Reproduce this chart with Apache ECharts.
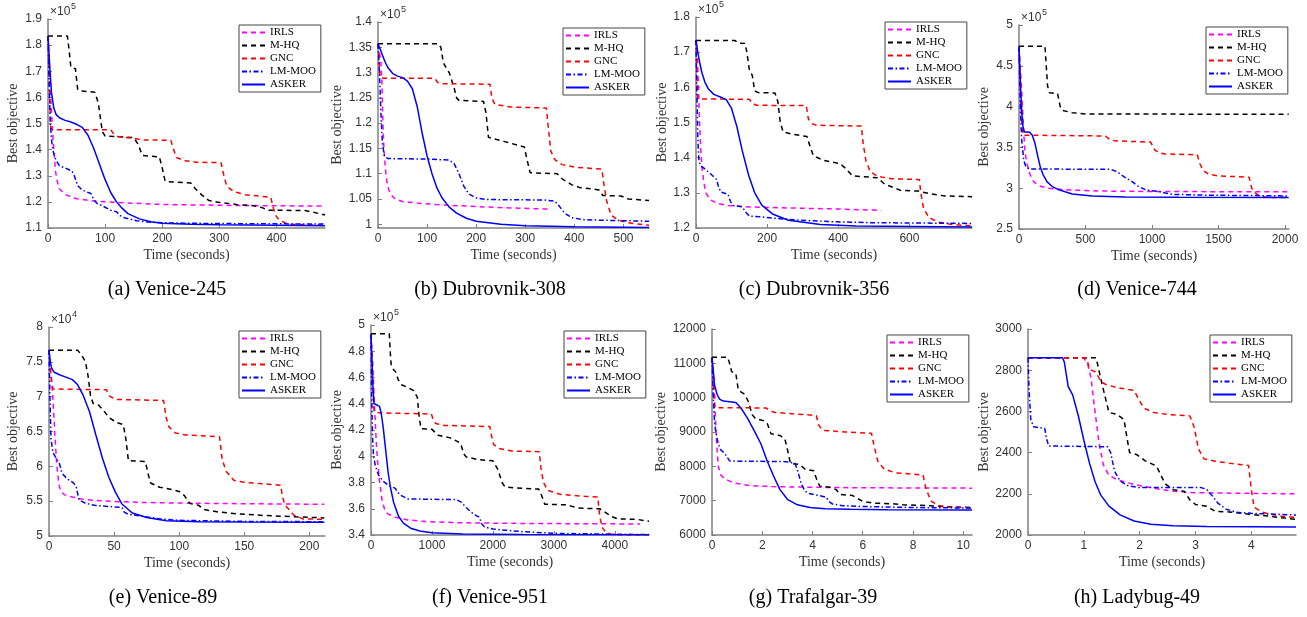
<!DOCTYPE html>
<html>
<head>
<meta charset="utf-8">
<script src="https://cdn.jsdelivr.net/npm/echarts@6/dist/echarts.min.js"></script>
<style>
html, body { margin: 0; padding: 0; background: #fff; }
#main { width: 1307px; height: 617px; }
</style>
</head>
<body>
<div id="main"></div>
<script>
var seriesNames = ['IRLS', 'M-HQ', 'GNC', 'LM-MOO', 'ASKER'];
var captions = ['(a) Venice-245', '(b) Dubrovnik-308', '(c) Dubrovnik-356', '(d) Venice-744',
                '(e) Venice-89', '(f) Venice-951', '(g) Trafalgar-39', '(h) Ladybug-49'];
var exponents = ['5', '5', '5', '5', '4', '5', '', ''];

// (a) Venice-245, objective in units of 1e5
var aXTicks = [0, 100, 200, 300, 400];
var aYTicks = [1.1, 1.2, 1.3, 1.4, 1.5, 1.6, 1.7, 1.8, 1.9];
var aIRLS = [[0,1.835],[3,1.7],[6,1.55],[8,1.47],[11,1.38],[13,1.32],[16,1.28],[20,1.25],[30,1.228],[50,1.212],[80,1.203],[120,1.198],[200,1.19],[300,1.187],[400,1.185],[485,1.184]];
var aMHQ = [[0,1.835],[34,1.835],[37,1.78],[40,1.715],[48,1.71],[52,1.63],[56,1.625],[82,1.62],[88,1.58],[95,1.47],[100,1.452],[150,1.446],[158,1.42],[165,1.378],[195,1.372],[200,1.33],[205,1.28],[210,1.277],[250,1.272],[258,1.25],[270,1.225],[282,1.205],[300,1.198],[330,1.19],[360,1.185],[375,1.178],[385,1.168],[450,1.167],[465,1.16],[485,1.15]];
var aGNC = [[0,1.835],[3,1.6],[5,1.48],[10,1.476],[110,1.476],[115,1.46],[122,1.45],[150,1.443],[165,1.437],[215,1.436],[220,1.4],[225,1.37],[240,1.357],[260,1.352],[303,1.35],[308,1.3],[313,1.26],[325,1.24],[345,1.227],[390,1.218],[393,1.19],[398,1.15],[405,1.13],[420,1.115],[450,1.112],[485,1.111]];
var aLMMOO = [[0,1.835],[2,1.65],[4,1.5],[7,1.42],[10,1.385],[14,1.36],[20,1.338],[30,1.33],[42,1.318],[46,1.3],[52,1.262],[60,1.245],[75,1.232],[80,1.21],[85,1.195],[95,1.185],[110,1.168],[120,1.162],[126,1.148],[135,1.138],[155,1.128],[180,1.122],[220,1.119],[300,1.117],[400,1.116],[485,1.115]];
var aASKER = [[0,1.835],[3,1.72],[6,1.62],[10,1.56],[14,1.535],[20,1.522],[30,1.512],[40,1.506],[50,1.497],[60,1.485],[70,1.455],[80,1.405],[90,1.345],[100,1.285],[110,1.235],[120,1.2],[130,1.175],[140,1.155],[160,1.135],[180,1.124],[200,1.118],[250,1.114],[300,1.112],[400,1.111],[485,1.109]];

// (b) Dubrovnik-308
var bXTicks = [0, 100, 200, 300, 400, 500];
var bYTicks = [1, 1.05, 1.1, 1.15, 1.2, 1.25, 1.3, 1.35, 1.4];
var bIRLS = [[0,1.357],[3,1.34],[6,1.32],[8,1.28],[10,1.2],[12,1.15],[15,1.11],[18,1.085],[22,1.068],[28,1.057],[35,1.05],[50,1.045],[80,1.042],[120,1.039],[180,1.036],[250,1.033],[350,1.03]];
var bMHQ = [[0,1.357],[123,1.357],[128,1.35],[133,1.32],[140,1.307],[145,1.3],[150,1.285],[155,1.27],[160,1.25],[165,1.245],[215,1.243],[220,1.22],[225,1.172],[240,1.168],[260,1.163],[298,1.153],[303,1.13],[310,1.102],[365,1.1],[375,1.09],[395,1.078],[410,1.073],[450,1.068],[458,1.057],[495,1.056],[510,1.05],[552,1.047]];
var bGNC = [[0,1.357],[2,1.33],[4,1.29],[10,1.289],[115,1.289],[122,1.28],[130,1.278],[228,1.277],[232,1.25],[238,1.237],[270,1.232],[343,1.23],[347,1.19],[352,1.145],[360,1.128],[375,1.118],[400,1.113],[456,1.109],[460,1.08],[466,1.045],[475,1.018],[490,1.008],[510,1.003],[552,0.998]];
var bLMMOO = [[0,1.357],[3,1.3],[6,1.22],[9,1.16],[13,1.135],[20,1.13],[100,1.129],[145,1.127],[155,1.12],[165,1.1],[175,1.075],[185,1.06],[200,1.052],[220,1.049],[340,1.048],[360,1.046],[370,1.035],[380,1.022],[395,1.013],[420,1.009],[460,1.008],[552,1.006]];
var bASKER = [[0,1.357],[5,1.345],[10,1.332],[15,1.32],[20,1.31],[30,1.298],[40,1.293],[50,1.29],[60,1.283],[70,1.268],[80,1.232],[90,1.18],[100,1.135],[110,1.1],[120,1.072],[130,1.053],[145,1.034],[160,1.022],[180,1.012],[200,1.006],[250,1.0],[300,0.997],[400,0.995],[552,0.9935]];

// (c) Dubrovnik-356
var cXTicks = [0, 200, 400, 600];
var cYTicks = [1.2, 1.3, 1.4, 1.5, 1.6, 1.7, 1.8];
var cIRLS = [[0,1.734],[4,1.68],[7,1.6],[10,1.5],[13,1.43],[17,1.37],[22,1.33],[28,1.3],[40,1.28],[60,1.27],[90,1.264],[150,1.26],[260,1.257],[400,1.254],[521,1.25]];
var cMHQ = [[0,1.733],[110,1.733],[118,1.726],[138,1.725],[143,1.7],[150,1.65],[158,1.635],[165,1.59],[175,1.585],[222,1.584],[230,1.56],[237,1.5],[245,1.473],[270,1.467],[312,1.46],[318,1.44],[330,1.405],[360,1.392],[405,1.383],[420,1.37],[440,1.348],[510,1.343],[530,1.325],[555,1.315],[575,1.307],[625,1.305],[660,1.297],[700,1.291],[776,1.289]];
var cGNC = [[0,1.734],[3,1.62],[5,1.567],[150,1.566],[158,1.555],[170,1.549],[310,1.548],[316,1.51],[325,1.497],[340,1.492],[465,1.49],[470,1.44],[478,1.39],[490,1.36],[510,1.347],[550,1.34],[628,1.338],[632,1.3],[640,1.255],[655,1.23],[680,1.217],[720,1.21],[776,1.206]];
var cLMMOO = [[0,1.734],[2,1.6],[5,1.46],[8,1.395],[12,1.378],[25,1.368],[40,1.355],[58,1.338],[63,1.318],[70,1.302],[90,1.296],[97,1.275],[105,1.264],[130,1.26],[140,1.245],[150,1.234],[180,1.232],[220,1.228],[280,1.223],[380,1.218],[500,1.215],[776,1.213]];
var cASKER = [[0,1.734],[5,1.7],[10,1.672],[17,1.64],[25,1.615],[35,1.595],[50,1.58],[70,1.572],[85,1.565],[100,1.54],[115,1.488],[130,1.42],[148,1.35],[165,1.3],[185,1.265],[215,1.24],[260,1.222],[350,1.21],[450,1.206],[776,1.203]];

// (d) Venice-744
var dXTicks = [0, 500, 1000, 1500, 2000];
var dYTicks = [2.5, 3, 3.5, 4, 4.5, 5];
var dIRLS = [[0,4.734],[20,4.2],[35,3.7],[45,3.45],[60,3.3],[80,3.18],[110,3.08],[150,3.03],[220,3.0],[350,2.98],[600,2.965],[1000,2.96],[2028,2.955]];
var dMHQ = [[0,4.74],[195,4.74],[205,4.5],[215,4.25],[230,4.17],[290,4.16],[310,4.0],[325,3.955],[400,3.925],[500,3.91],[2028,3.905]];
var dGNC = [[0,4.734],[10,4.3],[20,3.8],[30,3.65],[650,3.64],[680,3.6],[720,3.58],[990,3.565],[1020,3.47],[1050,3.435],[1100,3.42],[1340,3.41],[1360,3.3],[1385,3.215],[1430,3.17],[1500,3.15],[1730,3.135],[1750,3.0],[1770,2.95],[1810,2.9],[1900,2.885],[2028,2.885]];
var dLMMOO = [[0,4.734],[10,4.0],[20,3.6],[35,3.35],[50,3.27],[75,3.235],[690,3.232],[740,3.2],[790,3.14],[850,3.08],[900,3.02],[960,2.975],[1050,2.96],[1100,2.94],[1150,2.925],[1400,2.915],[2028,2.905]];
var dASKER = [[0,4.734],[10,4.3],[20,3.95],[30,3.75],[40,3.69],[60,3.69],[80,3.685],[100,3.65],[120,3.55],[140,3.4],[160,3.26],[180,3.17],[210,3.08],[250,3.02],[300,2.98],[400,2.93],[550,2.905],[800,2.893],[1200,2.888],[2028,2.885]];

// (e) Venice-89, objective in units of 1e4
var eXTicks = [0, 50, 100, 150, 200];
var eYTicks = [5, 5.5, 6, 6.5, 7, 7.5, 8];
var eIRLS = [[0,7.67],[1.5,7.3],[2.5,7.1],[3.5,6.8],[5,6.3],[6,6.02],[7.5,5.75],[9,5.64],[12,5.59],[18,5.56],[25,5.53],[35,5.51],[50,5.495],[75,5.48],[110,5.47],[160,5.462],[211.5,5.455]];
var eMHQ = [[0,7.665],[22,7.665],[25,7.6],[28,7.5],[30,7.3],[32,7.0],[34,6.9],[38,6.88],[42,6.8],[46,6.7],[52,6.63],[57,6.6],[59,6.4],[61,6.08],[74,6.07],[76,5.9],[78,5.76],[85,5.7],[90,5.685],[100,5.64],[104,5.58],[108,5.47],[115,5.44],[119,5.38],[130,5.345],[145,5.318],[165,5.295],[190,5.275],[211.5,5.26]];
var eGNC = [[0,7.67],[1.5,7.3],[3,7.11],[44,7.1],[47,7.0],[52,6.96],[88,6.945],[90,6.7],[92,6.57],[97,6.48],[105,6.45],[131,6.425],[133,6.1],[136,5.93],[142,5.8],[150,5.77],[178,5.73],[179,5.6],[181,5.45],[188,5.3],[195,5.245],[211.5,5.24]];
var eLMMOO = [[0,7.67],[0.7,7.0],[1.5,6.4],[3,6.2],[6,6.1],[8,6.04],[10,5.9],[14,5.82],[19,5.76],[21,5.7],[23,5.52],[28,5.47],[35,5.44],[45,5.425],[56,5.41],[58,5.34],[61,5.31],[70,5.29],[85,5.245],[100,5.225],[150,5.21],[211.5,5.205]];
var eASKER = [[0,7.67],[1,7.5],[2,7.41],[4,7.35],[8,7.315],[13,7.28],[18,7.245],[22,7.17],[26,7.03],[31,6.79],[36,6.45],[41,6.12],[46,5.84],[51,5.63],[56,5.46],[64,5.33],[75,5.265],[90,5.22],[115,5.205],[150,5.2],[211.5,5.197]];

// (f) Venice-951, objective in units of 1e5
var fXTicks = [0, 1000, 2000, 3000, 4000];
var fYTicks = [3.4, 3.6, 3.8, 4, 4.2, 4.4, 4.6, 4.8, 5];
var fIRLS = [[0,4.93],[30,4.7],[60,4.35],[90,4.08],[110,3.95],[140,3.81],[180,3.67],[220,3.6],[280,3.56],[400,3.535],[600,3.515],[900,3.502],[1500,3.493],[2500,3.488],[4414,3.484]];
var fMHQ = [[0,4.934],[300,4.934],[315,4.8],[330,4.7],[350,4.67],[400,4.645],[450,4.58],[500,4.545],[600,4.525],[700,4.5],[760,4.45],[790,4.3],[820,4.21],[1000,4.205],[1100,4.16],[1300,4.14],[1470,4.1],[1520,4.02],[1560,3.995],[1750,3.975],[2000,3.965],[2080,3.9],[2150,3.8],[2200,3.765],[2500,3.755],[2750,3.75],[2800,3.7],[2850,3.635],[3200,3.63],[3400,3.605],[3750,3.6],[3850,3.57],[3950,3.54],[4050,3.522],[4350,3.52],[4560,3.505]];
var fGNC = [[0,4.93],[20,4.6],[50,4.34],[150,4.33],[990,4.322],[1020,4.28],[1060,4.25],[1200,4.235],[1950,4.226],[1980,4.15],[2010,4.09],[2100,4.06],[2300,4.04],[2760,4.035],[2790,3.9],[2830,3.8],[2900,3.74],[3100,3.71],[3500,3.695],[3720,3.69],[3750,3.55],[3790,3.46],[3850,3.42],[3950,3.405],[4100,3.4],[4560,3.4]];
var fLMMOO = [[0,4.93],[10,4.5],[25,4.15],[40,4.01],[70,3.93],[120,3.86],[200,3.81],[300,3.775],[400,3.755],[430,3.73],[480,3.705],[600,3.675],[1000,3.672],[1400,3.67],[1480,3.65],[1560,3.61],[1640,3.575],[1720,3.55],[1780,3.535],[1810,3.49],[1860,3.462],[2000,3.445],[2200,3.437],[2500,3.425],[3000,3.413],[4000,3.406],[4560,3.403]];
var fASKER = [[0,4.93],[15,4.75],[30,4.55],[50,4.4],[100,4.39],[140,4.38],[170,4.32],[200,4.22],[240,4.05],[280,3.88],[320,3.76],[370,3.65],[450,3.545],[530,3.49],[650,3.452],[800,3.43],[1000,3.418],[1500,3.408],[2500,3.404],[4560,3.402]];

// (g) Trafalgar-39
var gXTicks = [0, 2, 4, 6, 8, 10];
var gYTicks = [6000, 7000, 8000, 9000, 10000, 11000, 12000];
var gIRLS = [[0,11165],[0.08,10500],[0.13,9500],[0.18,8700],[0.25,8000],[0.35,7750],[0.5,7640],[0.7,7570],[1.0,7500],[1.5,7440],[2.4,7410],[4,7390],[6,7375],[10.35,7365]];
var gMHQ = [[0,11175],[0.62,11175],[0.7,11000],[0.78,10760],[0.95,10700],[1.0,10450],[1.05,10220],[1.3,10100],[1.45,9880],[1.6,9500],[1.72,9400],[2.05,9330],[2.2,9250],[2.35,8950],[2.7,8900],[2.9,8800],[3.0,8500],[3.12,8090],[3.5,8050],[3.7,7920],[4.05,7870],[4.2,7550],[4.3,7420],[4.7,7390],[4.95,7320],[5.1,7180],[5.6,7150],[5.8,7060],[6.0,6980],[6.4,6930],[7.2,6910],[7.6,6880],[8.5,6860],[9.2,6830],[10.35,6800]];
var gGNC = [[0,11165],[0.05,10400],[0.1,9710],[2.15,9700],[2.3,9620],[2.5,9570],[3.2,9530],[4.15,9480],[4.25,9200],[4.4,9050],[5.3,9000],[6.35,8960],[6.45,8600],[6.6,8150],[6.85,7920],[7.3,7810],[8.4,7750],[8.5,7400],[8.7,7000],[9.0,6860],[9.5,6810],[10.35,6795]];
var gLMMOO = [[0,11165],[0.05,10000],[0.1,9300],[0.15,9000],[0.25,8650],[0.35,8480],[0.5,8380],[0.7,8160],[1.0,8150],[2.8,8140],[3.1,8120],[3.3,8090],[3.42,7850],[3.55,7500],[3.7,7280],[3.85,7210],[4.2,7160],[4.55,7100],[4.65,6980],[4.8,6900],[5.2,6855],[6,6830],[8,6800],[10.35,6785]];
var gASKER = [[0,11165],[0.05,10800],[0.1,10370],[0.2,10100],[0.3,9960],[0.45,9900],[0.7,9880],[0.95,9860],[1.15,9700],[1.4,9420],[1.7,9010],[1.95,8650],[2.2,8150],[2.45,7720],[2.7,7330],[3.0,7040],[3.4,6880],[3.9,6800],[4.5,6765],[5.5,6750],[7,6738],[10.35,6728]];

// (h) Ladybug-49
var hXTicks = [0, 1, 2, 3, 4];
var hYTicks = [2000, 2200, 2400, 2600, 2800, 3000];
var hIRLS = [[0,2860],[1.0,2860],[1.07,2830],[1.13,2760],[1.2,2600],[1.27,2450],[1.35,2340],[1.45,2290],[1.6,2268],[1.9,2245],[2.3,2225],[2.6,2212],[3.0,2205],[4.8,2200]];
var hMHQ = [[0,2860],[1.22,2860],[1.27,2800],[1.32,2740],[1.4,2650],[1.45,2595],[1.6,2585],[1.72,2560],[1.78,2460],[1.82,2400],[1.95,2390],[2.1,2360],[2.3,2335],[2.4,2280],[2.45,2250],[2.6,2220],[2.8,2212],[2.9,2170],[3.0,2148],[3.2,2140],[3.35,2115],[3.6,2112],[4.0,2100],[4.3,2092],[4.6,2082],[4.8,2076]];
var hGNC = [[0,2860],[1.05,2860],[1.1,2805],[1.22,2790],[1.3,2745],[1.4,2730],[1.6,2715],[1.9,2702],[2.0,2650],[2.08,2615],[2.25,2595],[2.5,2585],[2.9,2578],[2.98,2520],[3.05,2420],[3.15,2370],[3.35,2358],[3.7,2345],[3.95,2338],[4.0,2220],[4.05,2135],[4.2,2110],[4.5,2092],[4.8,2085]];
var hLMMOO = [[0,2860],[0.02,2700],[0.05,2560],[0.1,2525],[0.3,2518],[0.33,2470],[0.37,2432],[1.0,2430],[1.43,2428],[1.48,2400],[1.55,2310],[1.65,2262],[1.8,2238],[2.0,2230],[3.1,2230],[3.2,2222],[3.3,2190],[3.4,2155],[3.55,2125],[3.75,2110],[4.0,2105],[4.8,2097]];
var hASKER = [[0,2860],[0.62,2860],[0.65,2840],[0.72,2720],[0.8,2680],[0.9,2580],[1.0,2460],[1.1,2350],[1.2,2260],[1.3,2195],[1.45,2140],[1.65,2098],[1.9,2068],[2.2,2052],[2.6,2045],[3.2,2041],[4.8,2039]];

// layout: plot box [left, top, right, bottom], legend [left, top], caption [x, y]
var panels = [
  { box: [48, 19, 325, 228],    x: [0, 485],   y: [1.1, 1.9],     xt: aXTicks, yt: aYTicks, lines: [aIRLS, aMHQ, aGNC, aLMMOO, aASKER], leg: [239, 25],   cap: [167, 290],  gap: 28 },
  { box: [378, 22, 649, 228],   x: [0, 552],   y: [0.9927, 1.4],  xt: bXTicks, yt: bYTicks, lines: [bIRLS, bMHQ, bGNC, bLMMOO, bASKER], leg: [563, 28],   cap: [490, 290],  gap: 34 },
  { box: [696, 17, 972, 228],   x: [0, 776],   y: [1.2, 1.8],     xt: cXTicks, yt: cYTicks, lines: [cIRLS, cMHQ, cGNC, cLMMOO, cASKER], leg: [885, 22],   cap: [814, 290],  gap: 27 },
  { box: [1019, 25, 1289, 229], x: [0, 2030],  y: [2.5, 5],       xt: dXTicks, yt: dYTicks, lines: [dIRLS, dMHQ, dGNC, dLMMOO, dASKER], leg: [1206, 27],  cap: [1137, 290], gap: 28 },
  { box: [49, 327, 325, 536],   x: [0, 212],   y: [5, 8],         xt: eXTicks, yt: eYTicks, lines: [eIRLS, eMHQ, eGNC, eLMMOO, eASKER], leg: [239, 331],  cap: [163, 598],  gap: 29 },
  { box: [371, 325, 649, 535],  x: [0, 4560],  y: [3.4, 5],       xt: fXTicks, yt: fYTicks, lines: [fIRLS, fMHQ, fGNC, fLMMOO, fASKER], leg: [564, 331],  cap: [490, 598],  gap: 27 },
  { box: [712, 329, 972, 535],  x: [0, 10.35], y: [6000, 12000],  xt: gXTicks, yt: gYTicks, lines: [gIRLS, gMHQ, gGNC, gLMMOO, gASKER], leg: [887, 335],  cap: [813, 598],  gap: 44 },
  { box: [1028, 329, 1296, 535],x: [0, 4.8],   y: [2000, 3000],   xt: hXTicks, yt: hYTicks, lines: [hIRLS, hMHQ, hGNC, hLMMOO, hASKER], leg: [1210, 335], cap: [1137, 598], gap: 37 }
];

var lineStyles = [
  { color: '#ff00ff', type: [5, 4] },
  { color: '#000000', type: [5, 4] },
  { color: '#ff0000', type: [5, 4] },
  { color: '#0000ff', type: [5, 2.5, 1.5, 2.5] },
  { color: '#0000ff', type: 'solid' }
];

var axisGray = '#808080';
function fmt(v) { return String(+v.toFixed(4)); }

var option = { animation: false, backgroundColor: '#fff', grid: [], xAxis: [], yAxis: [], series: [], legend: [], graphic: [] };

panels.forEach(function (p, i) {
  var b = p.box;
  option.grid.push({ left: b[0], top: b[1], width: b[2] - b[0], height: b[3] - b[1], outerBoundsMode: 'none' });
  option.xAxis.push({
    type: 'value', gridIndex: i, min: p.x[0], max: p.x[1],
    name: 'Time (seconds)', nameLocation: 'middle', nameGap: 20,
    nameTextStyle: { fontFamily: 'Liberation Serif', fontSize: 14, color: '#333' },
    axisLine: { show: true, onZero: false, lineStyle: { color: axisGray, width: 1.5 } },
    axisTick: { show: true, inside: true, length: 4, customValues: p.xt, lineStyle: { color: axisGray, width: 1 } },
    axisLabel: { customValues: p.xt, formatter: fmt, color: '#333', fontFamily: 'Liberation Sans', fontSize: 12, margin: 5 },
    splitLine: { show: false }
  });
  option.yAxis.push({
    type: 'value', gridIndex: i, min: p.y[0], max: p.y[1],
    name: 'Best objective', nameLocation: 'middle', nameGap: p.gap,
    nameTextStyle: { fontFamily: 'Liberation Serif', fontSize: 14, color: '#333' },
    axisLine: { show: true, onZero: false, lineStyle: { color: axisGray, width: 1.5 } },
    axisTick: { show: true, inside: true, length: 4, customValues: p.yt, lineStyle: { color: axisGray, width: 1 } },
    axisLabel: { customValues: p.yt, formatter: fmt, color: '#333', fontFamily: 'Liberation Sans', fontSize: 12, margin: 6 },
    splitLine: { show: false }
  });
  p.lines.forEach(function (d, k) {
    option.series.push({
      type: 'line', name: seriesNames[k], xAxisIndex: i, yAxisIndex: i,
      data: d, symbol: 'none', smooth: false, clip: true,
      lineStyle: { color: lineStyles[k].color, type: lineStyles[k].type, width: 1.5 },
      itemStyle: { color: lineStyles[k].color }
    });
  });
  option.legend.push({
    left: p.leg[0], top: p.leg[1], orient: 'vertical', data: seriesNames,
    itemWidth: 23, itemHeight: 11, itemGap: 2, padding: [2, 5, 2, 2],
    backgroundColor: '#fff', borderColor: '#444', borderWidth: 1, borderRadius: 0,
    selectedMode: false,
    itemStyle: { opacity: 0 },
    textStyle: { fontFamily: 'Liberation Serif', fontSize: 11, color: '#000' }
  });
  option.graphic.push({
    type: 'text', x: p.cap[0], y: p.cap[1],
    style: { text: captions[i], font: '20px "Liberation Serif"', fill: '#000', align: 'center', verticalAlign: 'middle', textAlign: 'center', textVerticalAlign: 'middle' }
  });
  if (exponents[i]) {
    option.graphic.push({
      type: 'text', x: b[0] + 2, y: b[1] - 7,
      style: { text: '\u00d710', font: '12px "Liberation Sans"', fill: '#333', align: 'left', verticalAlign: 'middle', textAlign: 'left', textVerticalAlign: 'middle' }
    });
    option.graphic.push({
      type: 'text', x: b[0] + 23, y: b[1] - 12,
      style: { text: exponents[i], font: '9px "Liberation Sans"', fill: '#333', align: 'left', verticalAlign: 'middle', textAlign: 'left', textVerticalAlign: 'middle' }
    });
  }
});

var chart = echarts.init(document.getElementById('main'), null, { renderer: 'canvas' });
chart.setOption(option);
</script>
</body>
</html>
